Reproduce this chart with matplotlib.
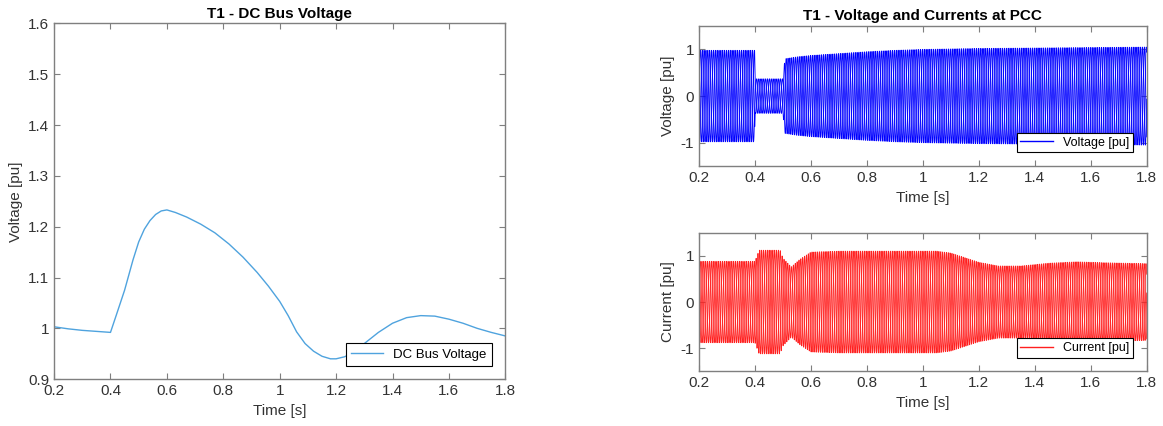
import numpy as np
import matplotlib
matplotlib.use("Agg")
import matplotlib.pyplot as plt
from matplotlib.lines import Line2D

plt.rcParams["font.family"] = ["Liberation Sans", "DejaVu Sans"]
plt.rcParams["axes.unicode_minus"] = False

AX = "#7f7f7f"
TXT = "#333333"

# DC bus voltage [pu]
dc_t = [0.2, 0.25, 0.3, 0.35, 0.4, 0.42, 0.45, 0.48, 0.5, 0.52, 0.54, 0.56, 0.58, 0.6,
        0.63, 0.67, 0.72, 0.77, 0.82, 0.87, 0.92, 0.96, 1.0, 1.03, 1.06, 1.09, 1.12,
        1.15, 1.18, 1.2, 1.23, 1.26, 1.3, 1.35, 1.4, 1.45, 1.5, 1.55, 1.6, 1.65, 1.7,
        1.75, 1.8]
dc_v = [1.003, 0.999, 0.996, 0.994, 0.992, 1.025, 1.075, 1.135, 1.17, 1.195, 1.212,
        1.224, 1.231, 1.233, 1.228, 1.219, 1.205, 1.188, 1.166, 1.14, 1.11, 1.083, 1.053,
        1.025, 0.993, 0.97, 0.955, 0.945, 0.94, 0.94, 0.944, 0.952, 0.97, 0.992, 1.01,
        1.021, 1.025, 1.024, 1.018, 1.01, 1.0, 0.992, 0.985]

# PCC voltage envelope (peak, pu)
v_env_t = [0.2, 0.399, 0.401, 0.5, 0.507, 0.55, 0.6, 0.7, 0.8, 0.9, 1.0, 1.1, 1.2, 1.4, 1.6, 1.8]
v_env_a = [0.98, 0.98, 0.37, 0.37, 0.80, 0.84, 0.87, 0.91, 0.95, 0.98, 1.00, 1.01, 1.02, 1.03, 1.04, 1.05]

# PCC current envelope (peak, pu)
i_env_t = [0.2, 0.4, 0.415, 0.49, 0.5, 0.53, 0.56, 0.6, 0.7, 0.9, 1.05, 1.1, 1.15, 1.2, 1.27,
           1.35, 1.45, 1.55, 1.65, 1.8]
i_env_a = [0.88, 0.88, 1.12, 1.12, 0.95, 0.76, 0.92, 1.08, 1.1, 1.1, 1.1, 1.06, 0.96, 0.86,
           0.78, 0.78, 0.84, 0.87, 0.85, 0.83]

F_GRID = 50.0
XT = ["0.2", "0.4", "0.6", "0.8", "1", "1.2", "1.4", "1.6", "1.8"]

fig = plt.figure(figsize=(11.63, 4.26), dpi=100, facecolor="white")


def style(ax):
    for s in ax.spines.values():
        s.set_color(AX)
        s.set_linewidth(1.0)
    ax.tick_params(direction="in", top=True, right=True, colors=AX, labelcolor=TXT,
                   labelsize=11, length=4, width=0.8)


# left: DC bus voltage
ax1 = fig.add_axes([0.0465, 0.11, 0.388, 0.835])
style(ax1)
ax1.plot(dc_t, dc_v, color="#4fa3de", lw=1.0, label="DC Bus Voltage")
ax1.set_xlim(0.2, 1.8)
ax1.set_ylim(0.9, 1.6)
ax1.set_xticks(np.arange(0.2, 1.81, 0.2))
ax1.set_xticklabels(XT)
ax1.set_yticks(np.arange(0.9, 1.61, 0.1))
ax1.set_yticklabels(["0.9", "1", "1.1", "1.2", "1.3", "1.4", "1.5", "1.6"])
ax1.set_xlabel("Time [s]", fontsize=11, color=TXT)
ax1.set_ylabel("Voltage [pu]", fontsize=11, color=TXT)
ax1.set_title("T1 - DC Bus Voltage", fontsize=11, fontweight="bold", color="black", pad=4)
leg = ax1.legend(loc="lower right", fontsize=9.5, fancybox=False, framealpha=1,
                 edgecolor="black", borderaxespad=1.0, handlelength=2.4)
leg.get_frame().set_linewidth(0.8)

# right: three-phase voltage and current at PCC
t = np.arange(0.2, 1.8, 2e-4)
v_amp = np.interp(t, v_env_t, v_env_a)
i_amp = np.interp(t, i_env_t, i_env_a)
phases = [0, -2 * np.pi / 3, 2 * np.pi / 3]

rights = [
    ([0.601, 0.61, 0.385, 0.329], v_amp, "#0000ff", "Voltage [pu]"),
    ([0.601, 0.128, 0.385, 0.326], i_amp, "#ff2020", "Current [pu]"),
]
for k, (rect, amp, col, lab) in enumerate(rights):
    ax = fig.add_axes(rect)
    style(ax)
    for ph in phases:
        ax.plot(t, amp * np.sin(2 * np.pi * F_GRID * t + ph + 0.3 * k), color=col, lw=0.6)
    ax.set_xlim(0.2, 1.8)
    ax.set_ylim(-1.5, 1.5)
    ax.set_xticks(np.arange(0.2, 1.81, 0.2))
    ax.set_xticklabels(XT)
    ax.set_yticks([-1, 0, 1])
    ax.set_xlabel("Time [s]", fontsize=11, color=TXT)
    ax.set_ylabel(lab, fontsize=11, color=TXT)
    lg = ax.legend([Line2D([], [], color=col, lw=1.0)], [lab], loc="lower right",
                   fontsize=9, fancybox=False, framealpha=1, edgecolor="black",
                   borderaxespad=1.1, handlelength=2.6, borderpad=0.3)
    lg.get_frame().set_linewidth(0.8)
    if k == 0:
        ax.set_title("T1 - Voltage and Currents at PCC", fontsize=11, fontweight="bold",
                     color="black", pad=4)

fig.savefig("out.png", dpi=100, facecolor="white")
